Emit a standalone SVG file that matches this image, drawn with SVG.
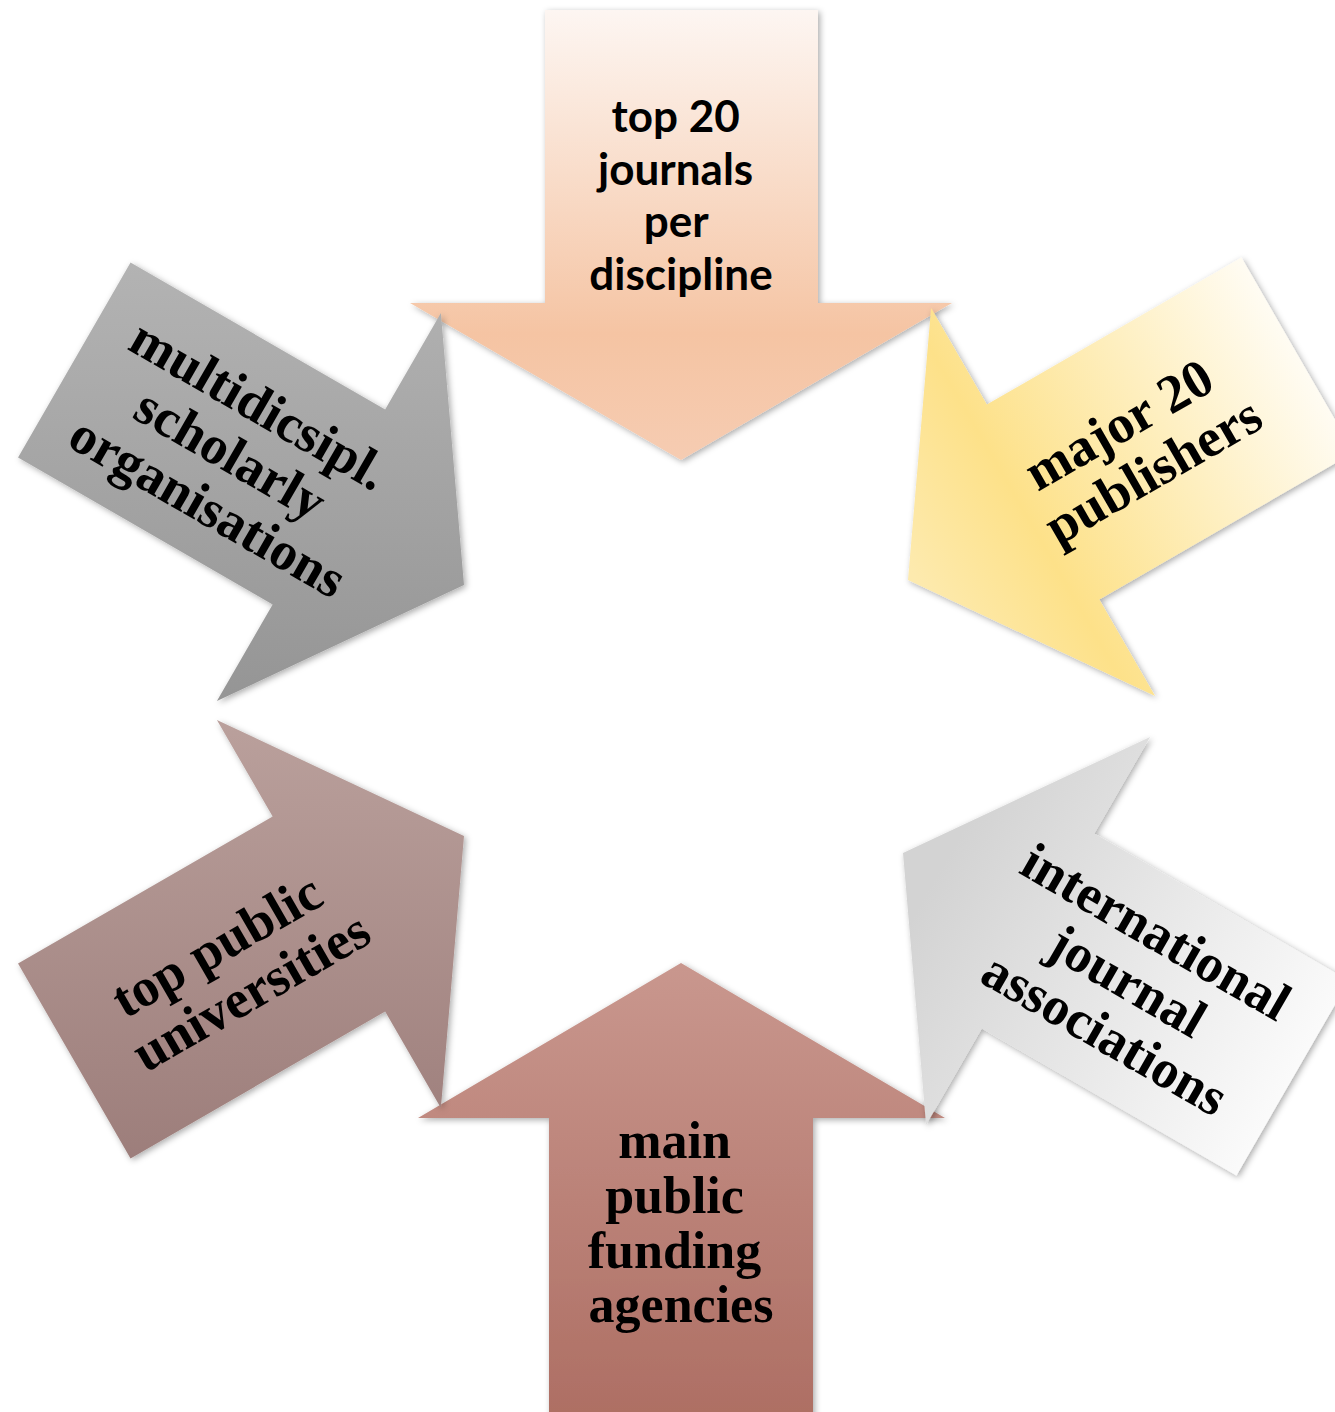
<svg xmlns="http://www.w3.org/2000/svg" width="1335" height="1412" viewBox="0 0 1335 1412">
  <style>
    .sans { font-family: Lato, "Open Sans", "Liberation Sans", sans-serif; font-weight: bold; font-size: 44px; fill: #000; text-anchor: middle; }
    .serif { font-family: "Liberation Serif", "DejaVu Serif", serif; font-weight: bold; font-size: 54px; fill: #000; text-anchor: middle; }
    .arrow { filter: url(#shadow); }
  </style>
  <defs>
    <filter id="shadow" x="-10%" y="-10%" width="120%" height="120%">
      <feDropShadow dx="2" dy="2" stdDeviation="3" flood-color="#000" flood-opacity="0.33"/>
    </filter>
    <linearGradient id="gTop" gradientUnits="userSpaceOnUse" x1="0" y1="10" x2="0" y2="460">
      <stop offset="0" stop-color="#fdf6f2"/>
      <stop offset="0.72" stop-color="#f5c4a3"/>
      <stop offset="1" stop-color="#f6ccb2"/>
    </linearGradient>
    <linearGradient id="gBottom" gradientUnits="userSpaceOnUse" x1="0" y1="963" x2="0" y2="1412">
      <stop offset="0" stop-color="#c9978e"/>
      <stop offset="1" stop-color="#ae6f64"/>
    </linearGradient>
    <linearGradient id="gGray" gradientUnits="userSpaceOnUse" x1="0" y1="263" x2="0" y2="701">
      <stop offset="0" stop-color="#b3b3b3"/>
      <stop offset="1" stop-color="#959595"/>
    </linearGradient>
    <linearGradient id="gMauve" gradientUnits="userSpaceOnUse" x1="0" y1="720" x2="0" y2="1158">
      <stop offset="0" stop-color="#baa09c"/>
      <stop offset="1" stop-color="#9d7e7b"/>
    </linearGradient>
    <linearGradient id="gYellow" gradientUnits="userSpaceOnUse" x1="1310" y1="350" x2="915" y2="578">
      <stop offset="0" stop-color="#fffdf7"/>
      <stop offset="0.72" stop-color="#fde189"/>
      <stop offset="1" stop-color="#fdeaae"/>
    </linearGradient>
    <linearGradient id="gLight" gradientUnits="userSpaceOnUse" x1="1300" y1="1080" x2="940" y2="870">
      <stop offset="0" stop-color="#fbfbfb"/>
      <stop offset="1" stop-color="#d3d3d3"/>
    </linearGradient>
  </defs>

  <g id="node-top">
    <polygon class="arrow" fill="url(#gTop)" points="545,10 818,10 818,303 952,303 681,460 410,303 545,303"/>
    <text class="sans">
      <tspan x="681" y="132">top 20</tspan>
      <tspan x="681" y="184.5">journals</tspan>
      <tspan x="681" y="237">per</tspan>
      <tspan x="681" y="289.5">discipline</tspan>
    </text>
  </g>

  <g id="node-bottom">
    <polygon class="arrow" fill="url(#gBottom)" points="681,963 945,1118 813,1118 813,1425 549,1425 549,1118 418,1118"/>
    <text class="serif" font-size="52" style="font-size:52px">
      <tspan x="681" y="1158">main</tspan>
      <tspan x="681" y="1213">public</tspan>
      <tspan x="681" y="1268">funding</tspan>
      <tspan x="681" y="1322">agencies</tspan>
    </text>
  </g>

  <g id="node-upper-left">
    <polygon class="arrow" fill="url(#gGray)" points="464,585 440.9,313.01 385.15,409.57 130.54,262.57 18.04,457.43 272.65,604.43 216.9,700.99"/>
    <text class="serif" transform="translate(235,460) rotate(30)">
      <tspan x="0" y="-42">multidicsipl.</tspan>
      <tspan x="0" y="15">scholarly</tspan>
      <tspan x="0" y="72">organisations</tspan>
    </text>
  </g>

  <g id="node-upper-right">
    <polygon class="arrow" fill="url(#gYellow)" points="908,580 931.1,308.01 986.85,404.57 1241.46,257.57 1353.96,452.43 1099.35,599.43 1155.1,695.99"/>
    <text class="serif" transform="translate(1140,448) rotate(-30)">
      <tspan x="0" y="-13">major 20</tspan>
      <tspan x="0" y="44">publishers</tspan>
    </text>
  </g>

  <g id="node-lower-left">
    <polygon class="arrow" fill="url(#gMauve)" points="464,836 216.9,720.01 272.65,816.57 18.04,963.57 130.54,1158.43 385.15,1011.43 440.9,1107.99"/>
    <text class="serif" transform="translate(238,969) rotate(-30)">
      <tspan x="0" y="-13">top public</tspan>
      <tspan x="0" y="44">universities</tspan>
    </text>
  </g>

  <g id="node-lower-right">
    <polygon class="arrow" fill="url(#gLight)" points="903,853 1150.1,737.01 1094.35,833.57 1348.96,980.57 1236.46,1175.43 981.85,1028.43 926.1,1124.99"/>
    <text class="serif" transform="translate(1132,987) rotate(30)">
      <tspan x="0" y="-42">international</tspan>
      <tspan x="0" y="15">journal</tspan>
      <tspan x="0" y="72">associations</tspan>
    </text>
  </g>

  <g id="connectors"></g>
</svg>
